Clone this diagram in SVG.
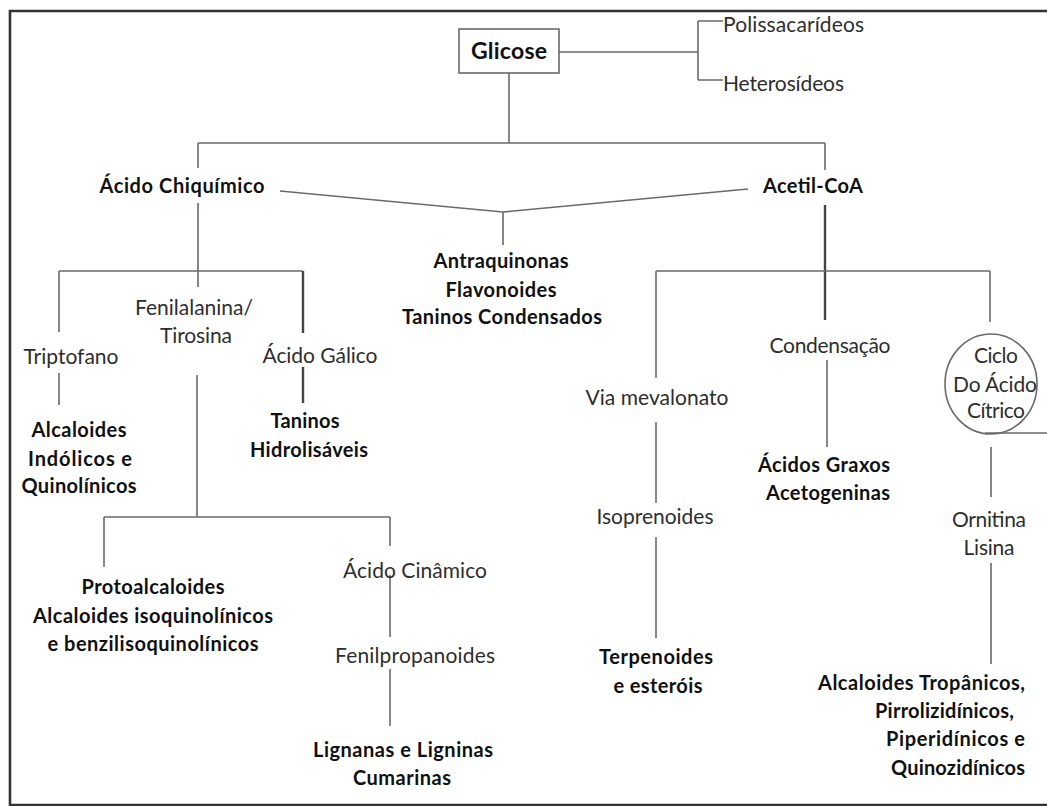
<svg xmlns="http://www.w3.org/2000/svg" width="1047" height="806" viewBox="0 0 1047 806">
<style>
text{font-family:Lato,"Liberation Sans",sans-serif;font-size:21px;fill:#2e2e2e;text-anchor:middle}
.b{font-weight:bold;fill:#111;font-size:20px}
.g{font-size:23px}
.s{text-anchor:start}
.e{text-anchor:end}
.ln{stroke:#6a6a6a;stroke-width:1.6;fill:none}
.tk{stroke:#444;stroke-width:2.4;fill:none}
.frame{stroke:#333;stroke-width:2.6;fill:none}
</style>
<rect width="1047" height="806" fill="#fff"/>
<path class="frame" d="M1047 11H10V805H1047"/>
<g id="connectors">
<path class="ln" d="M559 52H698M698 21V80M698 21H723M698 80H723"/>
<path class="ln" d="M509 73V143M198 143H825M198 143V168M825 143V170"/>
<path class="ln" d="M280 191L503 212L748 189M503 212V245"/>
<path class="ln" d="M198 203V287M59 271H303M59 271V332"/>
<path class="tk" d="M303 271V333M303 367V403"/>
<path class="ln" d="M59 373V405"/>
<path class="ln" d="M197 375V517M104 517H390M104 517V567M390 517V546"/>
<path class="ln" d="M390 575V637M390 669V726"/>
<path class="tk" d="M825 205V320"/>
<path class="ln" d="M656 271H990M656 271V378M990 271V322"/>
<path class="ln" d="M827 360V447"/>
<path class="ln" d="M656 422V503M656 537V638"/>
<path class="ln" d="M985 433H1047M991 447V497M991 563V664"/>
</g>
<g id="glicose"><rect x="459" y="29" width="100" height="44" class="ln"/><text class="b g" x="509" y="59" textLength="76">Glicose</text></g>
<g id="polissacarideos"><text class="s" x="723" y="32" textLength="141">Polissacarídeos</text></g>
<g id="heterosideos"><text class="s" x="723" y="91" textLength="121">Heterosídeos</text></g>
<g id="acido-chiquimico"><text class="b" x="182" y="193" textLength="165">Ácido Chiquímico</text></g>
<g id="acetil-coa"><text class="b" x="813" y="193" textLength="100">Acetil-CoA</text></g>
<g id="antraquinonas">
<text class="b" x="501" y="268" textLength="135">Antraquinonas</text>
<text class="b" x="501" y="297" textLength="111">Flavonoides</text>
<text class="b" x="502" y="324" textLength="200">Taninos  Condensados</text>
</g>
<g id="fenilalanina"><text x="194" y="315" textLength="118">Fenilalanina/</text><text x="196" y="343" textLength="72">Tirosina</text></g>
<g id="triptofano"><text x="71" y="364" textLength="95">Triptofano</text></g>
<g id="acido-galico"><text x="320" y="363" textLength="115">Ácido Gálico</text></g>
<g id="alcaloides-indolicos">
<text class="b" x="79" y="437" textLength="95">Alcaloides</text>
<text class="b" x="80" y="466" textLength="104">Indólicos e</text>
<text class="b" x="79" y="493" textLength="115">Quinolínicos</text>
</g>
<g id="taninos-hidrolisaveis">
<text class="b" x="305" y="428" textLength="69">Taninos</text>
<text class="b" x="309" y="457" textLength="118">Hidrolisáveis</text>
</g>
<g id="protoalcaloides">
<text class="b" x="153" y="594" textLength="143">Protoalcaloides</text>
<text class="b" x="153" y="623" textLength="240">Alcaloides  isoquinolínicos</text>
<text class="b" x="153" y="651" textLength="211">e benzilisoquinolínicos</text>
</g>
<g id="acido-cinamico"><text x="415" y="578" textLength="144">Ácido Cinâmico</text></g>
<g id="fenilpropanoides"><text x="415" y="663" textLength="160">Fenilpropanoides</text></g>
<g id="lignanas">
<text class="b" x="403" y="757" textLength="180">Lignanas  e Ligninas</text>
<text class="b" x="402" y="785" textLength="98">Cumarinas</text>
</g>
<g id="via-mevalonato"><text x="657" y="405" textLength="143">Via mevalonato</text></g>
<g id="isoprenoides"><text x="655" y="524" textLength="117">Isoprenoides</text></g>
<g id="terpenoides">
<text class="b" x="656" y="664" textLength="114">Terpenoides</text>
<text class="b" x="658" y="693" textLength="89">e esteróis</text>
</g>
<g id="condensacao"><text x="830" y="353" textLength="121">Condensação</text></g>
<g id="acidos-graxos">
<text class="b" x="824" y="472" textLength="132">Ácidos Graxos</text>
<text class="b" x="828" y="500" textLength="124">Acetogeninas</text>
</g>
<g id="ciclo-acido-citrico">
<ellipse cx="991" cy="384" rx="46" ry="50" class="ln"/>
<text x="996" y="363" textLength="44">Ciclo</text>
<text x="995" y="392" textLength="84">Do Ácido</text>
<text x="996" y="418" textLength="58">Cítrico</text>
</g>
<g id="ornitina-lisina"><text x="989" y="527" textLength="74">Ornitina</text><text x="989" y="555" textLength="51">Lisina</text></g>
<g id="alcaloides-tropanicos">
<text class="b e" x="1025" y="690" textLength="207">Alcaloides  Tropânicos,</text>
<text class="b e" x="1014" y="718" textLength="139">Pirrolizidínicos,</text>
<text class="b e" x="1025" y="746" textLength="139">Piperidínicos  e</text>
<text class="b e" x="1025" y="775" textLength="134">Quinozidínicos</text>
</g>
</svg>
